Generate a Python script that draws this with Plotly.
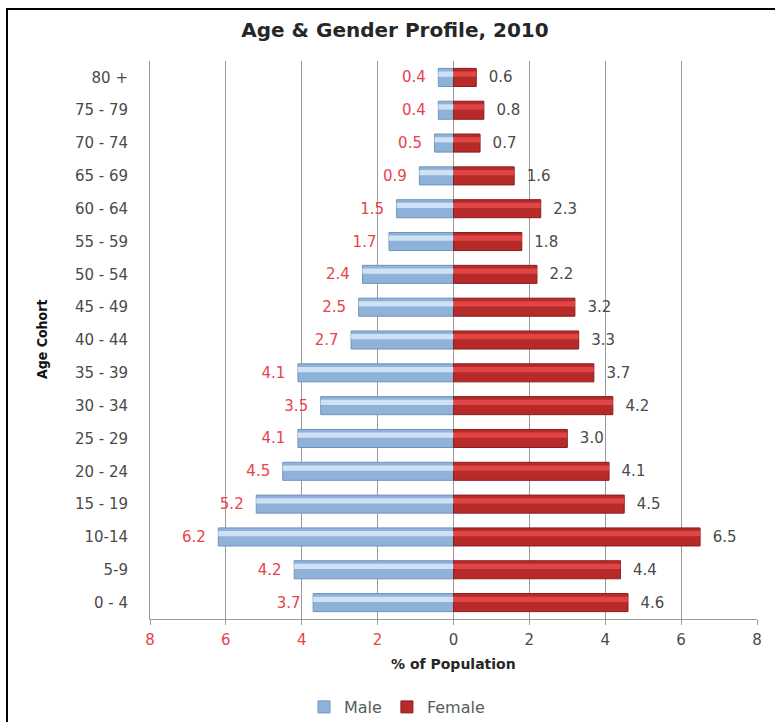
import plotly.graph_objects as go

cohorts = ["0 - 4", "5-9", "10-14", "15 - 19", "20 - 24", "25 - 29", "30 - 34", "35 - 39",
           "40 - 44", "45 - 49", "50 - 54", "55 - 59", "60 - 64", "65 - 69", "70 - 74",
           "75 - 79", "80 +"]
male = [3.7, 4.2, 6.2, 5.2, 4.5, 4.1, 3.5, 4.1, 2.7, 2.5, 2.4, 1.7, 1.5, 0.9, 0.5, 0.4, 0.4]
female = [4.6, 4.4, 6.5, 4.5, 4.1, 3.0, 4.2, 3.7, 3.3, 3.2, 2.2, 1.8, 2.3, 1.6, 0.7, 0.8, 0.6]
tick_vals = [-8, -6, -4, -2, 0, 2, 4, 6, 8]
tick_text = ["8", "6", "4", "2", "0", "2", "4", "6", "8"]

RED_TXT = "#e8434c"
GRAY_TXT = "#4a4a4a"
FONT = "DejaVu Sans"
NB = "\u00a0"

male_neg = [-v for v in male]

fig = go.Figure()
fig.add_trace(go.Bar(
    y=cohorts, x=male_neg, orientation="h", name="Male",
    marker=dict(color="#8fb2d8", line=dict(color="#6f93bd", width=1)),
    width=0.55, offset=-0.275,
    text=[f"{v:.1f}{NB*2}" for v in male], textposition="outside",
    textfont=dict(color=RED_TXT, size=15, family=FONT),
    cliponaxis=False, hoverinfo="skip",
))
fig.add_trace(go.Bar(
    y=cohorts, x=female, orientation="h", name="Female",
    marker=dict(color="#b72a2a", line=dict(color="#8a1c1c", width=1)),
    width=0.55, offset=-0.275,
    text=[f"{NB*2}{v:.1f}" for v in female], textposition="outside",
    textfont=dict(color=GRAY_TXT, size=15, family=FONT),
    cliponaxis=False, hoverinfo="skip",
))
fig.add_trace(go.Bar(
    y=cohorts, x=male_neg, orientation="h", showlegend=False,
    marker=dict(color="#cfe2f5", line=dict(width=0)),
    width=0.16, offset=0.02, hoverinfo="skip",
))
fig.add_trace(go.Bar(
    y=cohorts, x=female, orientation="h", showlegend=False,
    marker=dict(color="#e04545", line=dict(width=0)),
    width=0.16, offset=0.02, hoverinfo="skip",
))

fig.update_layout(
    width=775, height=722,
    barmode="overlay",
    paper_bgcolor="white", plot_bgcolor="white",
    margin=dict(l=150, r=18, t=61, b=103, autoexpand=False),
    title=dict(text="<b>Age & Gender Profile, 2010</b>", x=(395 - 150) / 607, xanchor="center",
               xref="paper", y=0.958, yanchor="middle",
               font=dict(family=FONT, size=20, color="#262626")),
    font=dict(family=FONT, color=GRAY_TXT),
    showlegend=True,
    legend=dict(orientation="h", x=(397 - 150) / 607, xanchor="center",
                y=(619 - 707) / 558, yanchor="middle",
                font=dict(family=FONT, size=16, color="#55605a"),
                traceorder="normal", itemwidth=30, tracegroupgap=0),
)
fig.update_xaxes(
    range=[-8, 8], tickvals=tick_vals,
    ticktext=[f"<span style='color:{RED_TXT}'>{t}</span>" if v < 0 else t
              for v, t in zip(tick_vals, tick_text)],
    showgrid=True, gridcolor="#9a9a9a", gridwidth=1,
    zeroline=True, zerolinecolor="#9a9a9a", zerolinewidth=1,
    showline=True, linecolor="#9a9a9a", linewidth=1,
    ticks="outside", tickcolor="#9a9a9a", ticklen=5,
    ticklabelstandoff=2, automargin=False,
    tickfont=dict(family=FONT, size=15, color=GRAY_TXT),
)
fig.update_yaxes(
    type="category", categoryorder="array", categoryarray=cohorts,
    showgrid=False, showline=True, linecolor="#9a9a9a", linewidth=1, ticks="",
    ticklabelstandoff=18, automargin=False,
    tickfont=dict(family=FONT, size=15, color=GRAY_TXT),
)
fig.add_annotation(text="<b>% of Population</b>", xref="paper", yref="paper",
                   x=0.5, y=(619 - 664) / 558, xanchor="center", yanchor="middle",
                   showarrow=False, font=dict(family=FONT, size=14, color="#262626"))
fig.add_annotation(text="<b>Age Cohort</b>", xref="paper", yref="paper",
                   x=(42 - 150) / 607, y=0.5, xanchor="center", yanchor="middle",
                   textangle=-90, showarrow=False,
                   font=dict(family="DejaVu Sans Condensed", size=14, color="#111111"))
fig.add_shape(type="rect", xref="paper", yref="paper",
              x0=(7 - 150) / 607, x1=(790 - 150) / 607,
              y0=(619 - 740) / 558, y1=1 + (61 - 9) / 558,
              line=dict(color="black", width=2), fillcolor="rgba(0,0,0,0)", layer="below")

fig.write_html("out.html")
